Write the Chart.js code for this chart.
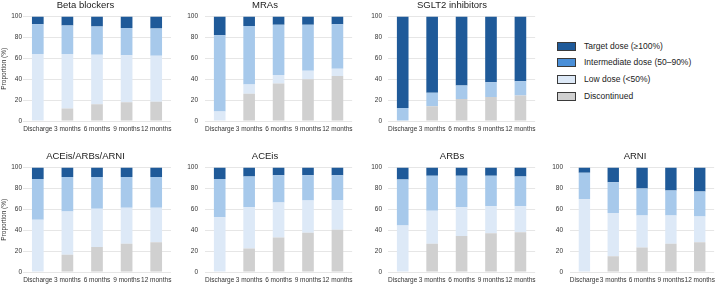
<!DOCTYPE html>
<html lang="en">
<head>
<meta charset="UTF-8">
<title>Dose titration over time</title>
<script src="https://cdn.jsdelivr.net/npm/chart.js"></script>
<style>
  body { margin: 0; background: #fff; font-family: "Liberation Sans", Arial, sans-serif; }
  #wrap { position: relative; width: 719px; height: 284px; overflow: hidden; }
  canvas { position: absolute; }
  .leg { position: absolute; left: 557px; font-size: 8.5px; color: #222; white-space: nowrap; }
  .leg span.sw { position: absolute; left: 0; top: 0; width: 17px; height: 7px; border: 1px solid #3a3a3a; }
  .leg span.tx { position: absolute; left: 27px; top: -1.5px; }
</style>
</head>
<body>
<div id="wrap"></div>

<script>
  // time points and dose categories
  const timepoints = ['Discharge', '3 months', '6 months', '9 months', '12 months'];
  const doseLabels = ['Target dose (≥100%)', 'Intermediate dose (50–90%)', 'Low dose (<50%)', 'Discontinued'];
  const yTicks = [0, 20, 40, 60, 80, 100];

  // Beta blockers (% of patients)
  const betaDisc = [0, 12, 16, 18, 18.5];
  const betaLow = [64, 52, 47.5, 45, 44];
  const betaInter = [28.5, 27.5, 27, 26, 26];
  const betaTarget = [7.5, 8.5, 9.5, 11, 11.5];

  // MRAs
  const mraDisc = [0, 26, 36, 40, 43];
  const mraLow = [9, 9, 8, 8, 7];
  const mraInter = [73, 56, 48, 44, 42.5];
  const mraTarget = [18, 9, 8, 8, 7.5];

  // SGLT2 inhibitors
  const sgltDisc = [0, 14, 21, 23, 24.5];
  const sgltLow = [0, 0, 0, 0, 0];
  const sgltInter = [12.5, 13, 13, 14, 13.5];
  const sgltTarget = [87.5, 73, 66, 63, 62];

  // ACEis/ARBs/ARNI
  const raasDisc = [0, 16.5, 24, 27, 28.5];
  const raasLow = [50, 41.5, 36.5, 34.5, 33];
  const raasInter = [39, 33, 30.5, 29.5, 29.5];
  const raasTarget = [11, 9, 9, 9, 9];

  // ACEis
  const aceDisc = [0, 22.5, 33, 37.5, 40.5];
  const aceLow = [52.5, 39.5, 33.5, 31, 28.5];
  const aceInter = [36.5, 29.5, 26, 24, 23.5];
  const aceTarget = [11, 8.5, 7.5, 7.5, 7.5];

  // ARBs
  const arbDisc = [0, 27, 34.5, 37, 38];
  const arbLow = [44.5, 31.5, 27.5, 26, 25];
  const arbInter = [44, 33.5, 30, 29, 28.5];
  const arbTarget = [11.5, 8, 8, 8, 8.5];

  // ARNI
  const arniDisc = [0, 15, 23.5, 27, 28.5];
  const arniLow = [69.5, 41.5, 30.5, 27, 24.5];
  const arniInter = [25.5, 29.5, 26, 24, 24];
  const arniTarget = [5, 14, 20, 22, 23];

  const barColors = ['#1f5a99', '#a7c9eb', '#dde9f7', '#d0d0d0'];
  const swatchColors = ['#1f5a99', '#4a8fd8', '#dde9f7', '#d0d0d0'];
  const fontFam = '"Liberation Sans", Arial, sans-serif';

  // canvas placement per column: left, width, y-axis width, right pad, tick padding
  const cols = [
    { left: 0, width: 177, yw: 23, padR: 6, tp: 1 },
    { left: 177, width: 180, yw: 28, padR: 4, tp: 7 },
    { left: 368, width: 172, yw: 20, padR: 4, tp: 6 },
    { left: 552, width: 167, yw: 18, padR: 1, tp: 7 }
  ];
  const rows = [0, 151];

  const panels = [
    { title: 'Beta blockers', row: 0, col: 0, d: [betaDisc, betaLow, betaInter, betaTarget] },
    { title: 'MRAs', row: 0, col: 1, d: [mraDisc, mraLow, mraInter, mraTarget] },
    { title: 'SGLT2 inhibitors', row: 0, col: 2, d: [sgltDisc, sgltLow, sgltInter, sgltTarget] },
    { title: 'ACEis/ARBs/ARNI', row: 1, col: 0, d: [raasDisc, raasLow, raasInter, raasTarget] },
    { title: 'ACEis', row: 1, col: 1, d: [aceDisc, aceLow, aceInter, aceTarget] },
    { title: 'ARBs', row: 1, col: 2, d: [arbDisc, arbLow, arbInter, arbTarget] },
    { title: 'ARNI', row: 1, col: 3, d: [arniDisc, arniLow, arniInter, arniTarget] }
  ];

  const wrap = document.getElementById('wrap');

  panels.forEach(function (p) {
    const c = cols[p.col];
    const cv = document.createElement('canvas');
    cv.width = c.width;
    cv.height = 133;
    cv.style.left = c.left + 'px';
    cv.style.top = rows[p.row] + 'px';
    wrap.appendChild(cv);

    // bottom to top: discontinued, low, intermediate, target
    const datasets = [3, 2, 1, 0].map(function (k, i) {
      return {
        label: doseLabels[k],
        data: p.d[i],
        backgroundColor: barColors[k],
        borderWidth: 0,
        categoryPercentage: 1,
        barPercentage: 0.395
      };
    });

    new Chart(cv.getContext('2d'), {
      type: 'bar',
      data: { labels: timepoints, datasets: datasets },
      options: {
        responsive: false,
        animation: false,
        devicePixelRatio: 1,
        layout: { padding: { left: 0, right: c.padR, top: 0, bottom: 0 } },
        plugins: {
          legend: { display: false },
          tooltip: { enabled: false },
          title: {
            display: true,
            text: p.title,
            color: '#222',
            font: { family: fontFam, size: 9.5, weight: 'normal' },
            padding: { top: 0, bottom: 5.1 }
          }
        },
        scales: {
          x: {
            stacked: true,
            grid: { display: false, drawTicks: false },
            border: { display: false },
            ticks: {
              color: '#333',
              font: { family: fontFam, size: 6.5 },
              padding: 4,
              maxRotation: 0,
              autoSkip: false
            },
            afterFit: function (s) { s.height = 12; }
          },
          y: {
            stacked: true,
            min: 0,
            max: 100,
            afterBuildTicks: function (s) { s.ticks = yTicks.map(function (v) { return { value: v }; }); },
            grid: { color: '#e6e6e6', lineWidth: 1, drawTicks: false },
            border: { display: false },
            ticks: {
              color: '#333',
              font: { family: fontFam, size: 6.5 },
              padding: c.tp
            },
            title: {
              display: p.col === 0,
              text: 'Proportion (%)',
              color: '#333',
              font: { family: fontFam, size: 6.5 },
              padding: 0
            },
            afterFit: function (s) { s.width = c.yw; }
          }
        }
      }
    });
  });

  // legend
  const legendTops = [42, 58, 75, 92];
  doseLabels.forEach(function (lab, k) {
    const row = document.createElement('div');
    row.className = 'leg';
    row.style.top = legendTops[k] + 'px';
    const sw = document.createElement('span');
    sw.className = 'sw';
    sw.style.background = swatchColors[k];
    const tx = document.createElement('span');
    tx.className = 'tx';
    tx.textContent = lab;
    row.appendChild(sw);
    row.appendChild(tx);
    wrap.appendChild(row);
  });
</script>
</body>
</html>
